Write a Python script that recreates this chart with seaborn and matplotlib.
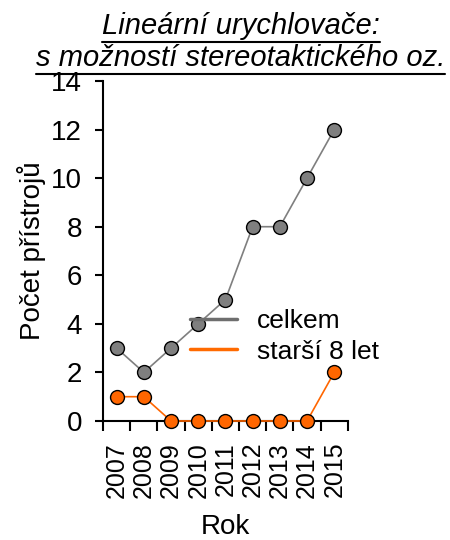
import pandas as pd
import seaborn as sns
import matplotlib.pyplot as plt
from matplotlib.lines import Line2D
from matplotlib.ticker import MultipleLocator

# Data
roky = [2007, 2008, 2009, 2010, 2011, 2012, 2013, 2014, 2015]
celkem = [3, 2, 3, 4, 5, 8, 8, 10, 12]
starsi_8_let = [1, 1, 0, 0, 0, 0, 0, 0, 2]
serie = ["celkem", "starší 8 let"]
barvy = {"celkem": "#7f7f7f", "starší 8 let": "#ff6600"}

df = pd.DataFrame({
    "rok": roky * 2,
    "pocet": celkem + starsi_8_let,
    "serie": [serie[0]] * len(roky) + [serie[1]] * len(roky),
})

sns.set_style("ticks")
plt.rcParams["font.family"] = ["Liberation Sans", "DejaVu Sans"]
plt.rcParams.update({"text.color": "black", "axes.labelcolor": "black",
                     "xtick.color": "black", "ytick.color": "black"})

fig = plt.figure(figsize=(4.5, 5.4), dpi=100)
ax = fig.add_axes([0.229, 0.2204, 0.544, 0.6296])

sns.lineplot(
    data=df, x="rok", y="pocet", hue="serie", palette=barvy,
    marker="o", markersize=10, markeredgecolor="black", markeredgewidth=1,
    linewidth=1.2, legend=False, ax=ax, zorder=3,
)
for ln in ax.lines:
    ln.set_clip_on(False)

# Osy
ax.set_xlim(roky[0] - 0.5, roky[-1] + 0.5)
ax.set_ylim(0, 14)
ax.yaxis.set_major_locator(MultipleLocator(2))
ax.set_xticks(roky)
ax.set_xticklabels([str(r) for r in roky], rotation=90)
ax.set_xticks([r - 0.5 for r in roky] + [roky[-1] + 0.5], minor=True)
ax.tick_params(axis="x", which="major", length=0, labelsize=18, pad=15)
ax.tick_params(axis="x", which="minor", length=7, width=1.5, direction="out", color="black")
ax.tick_params(axis="y", length=6, width=1.5, labelsize=20, pad=9, color="black")
ax.spines["top"].set_visible(False)
ax.spines["right"].set_visible(False)
for s in ["left", "bottom"]:
    ax.spines[s].set_linewidth(1.5)
    ax.spines[s].set_color("black")

ax.set_xlabel("Rok", fontsize=20, labelpad=12)
ax.set_ylabel("Počet přístrojů", fontsize=20, labelpad=4)

# Legenda
handles = [
    Line2D([0], [0], color="#6e6e6e", linewidth=2.5),
    Line2D([0], [0], color="#ff6a00", linewidth=2.5),
]
fig.legend(handles, serie, loc="center left", bbox_to_anchor=(0.422, 0.377),
           frameon=False, fontsize=19, handlelength=1.8, handletextpad=0.75,
           labelspacing=0.25, borderpad=0, borderaxespad=0)

# Nadpis s podtržením
radky = ["Lineární urychlovače:", "s možností stereotaktického oz."]
y_pos = [0.937, 0.878]
fig.canvas.draw()
renderer = fig.canvas.get_renderer()
for txt, yp in zip(radky, y_pos):
    t = fig.text(0.535, yp, txt, ha="center", va="baseline", fontsize=21, style="italic")
    bb = t.get_window_extent(renderer=renderer).transformed(fig.transFigure.inverted())
    fig.add_artist(Line2D([bb.x0, bb.x1], [yp - 0.0148, yp - 0.0148],
                          color="black", linewidth=1.5, transform=fig.transFigure))

fig.savefig("out.png", dpi=100)
